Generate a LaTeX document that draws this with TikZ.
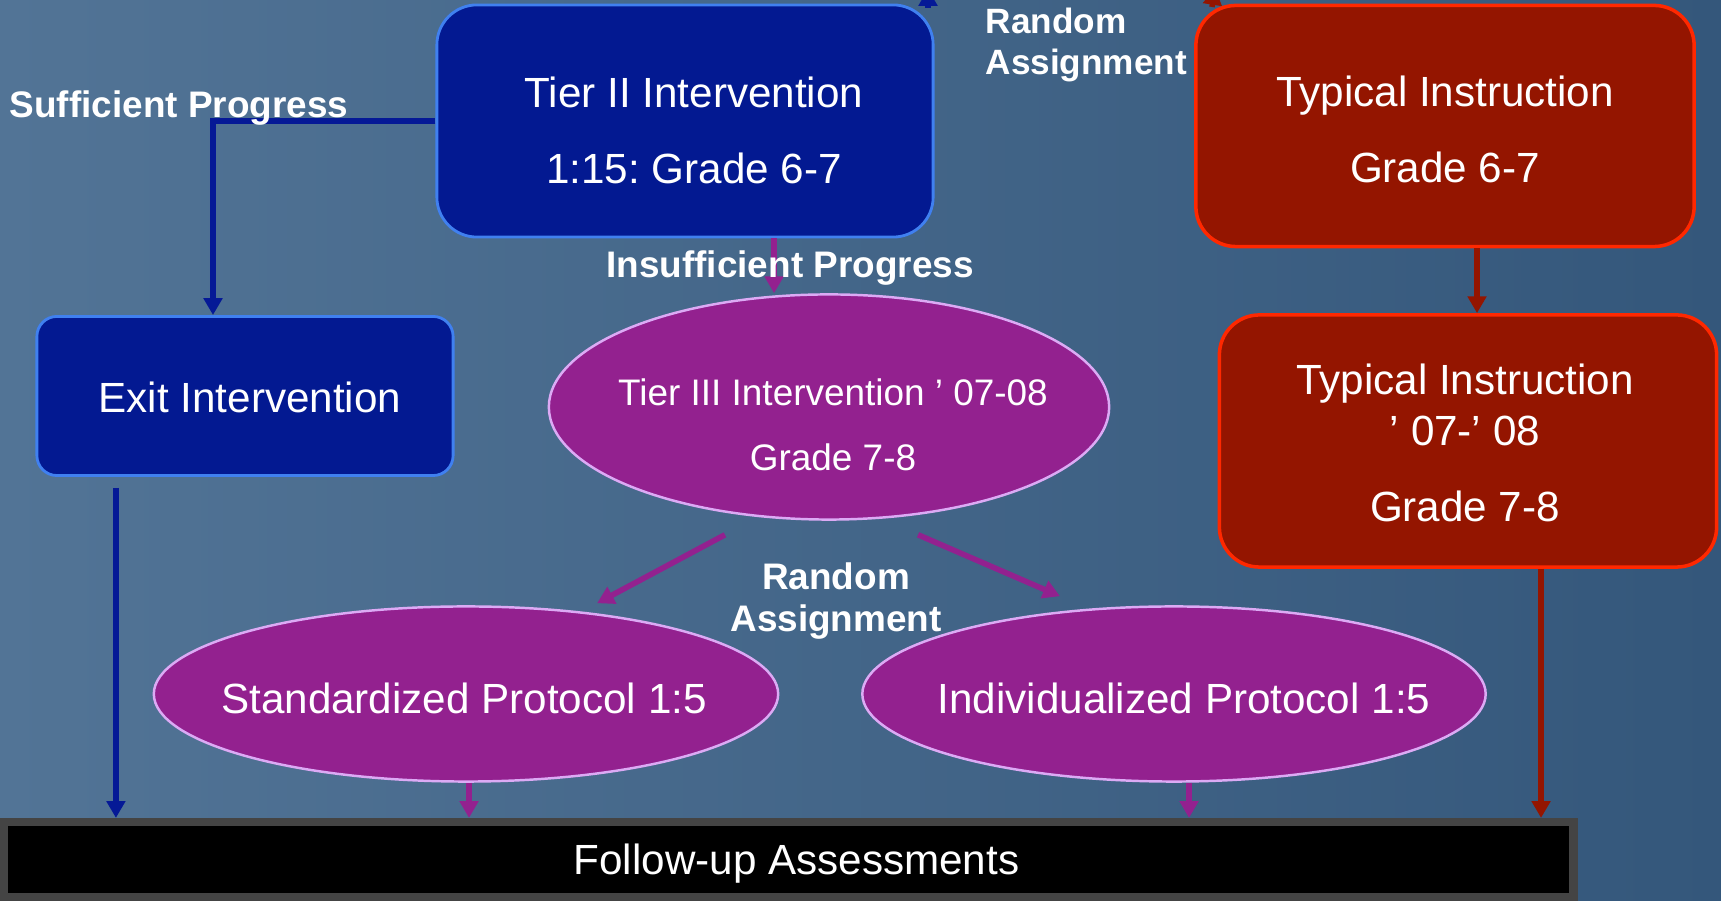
\documentclass[tikz,border=0pt]{standalone}
\usepackage{fontspec}
\setmainfont{Liberation Sans}
\usetikzlibrary{arrows.meta,shapes.geometric}
\frenchspacing

\definecolor{bgleft}{RGB}{82,116,150}
\definecolor{bgright}{RGB}{52,87,123}
\definecolor{tierfill}{RGB}{3,25,145}
\definecolor{tierline}{RGB}{64,128,240}
\definecolor{typfill}{RGB}{148,21,0}
\definecolor{typline}{RGB}{255,40,0}
\definecolor{ovalfill}{RGB}{147,33,143}
\definecolor{ovalline}{RGB}{220,170,245}
\definecolor{arrowblue}{RGB}{5,25,150}
\definecolor{arrowpurple}{RGB}{147,33,143}
\definecolor{arrowred}{RGB}{148,21,0}
\definecolor{bargrey}{RGB}{68,68,68}

\begin{document}
\begin{tikzpicture}[x=0.01cm,y=-0.01cm,
    bluebox/.style={rectangle,draw=tierline,fill=tierfill,line width=0.8pt,
      rounded corners=0.4cm,inner sep=0pt},
    redbox/.style={bluebox,draw=typline,fill=typfill,line width=1pt},
    oval/.style={ellipse,draw=ovalline,fill=ovalfill,line width=0.7pt,inner sep=0pt},
    boxtext/.style={text=white,align=center,inner sep=0pt,
      font=\fontsize{12}{14.4}\selectfont},
    flow/.style={-{Triangle[width=5.2pt,length=4.8pt]},line width=1.6pt},
    lbl/.style={text=white,inner sep=0pt,align=center,
      font=\bfseries\fontsize{10.5}{12.2}\selectfont}]

\useasboundingbox (0,0) rectangle (1721,901);
\clip (0,0) rectangle (1721,901);
\fill[left color=bgleft,right color=bgright] (0,0) rectangle (1721,901);

% arrows leaving at the top edge
\coordinate (ra1) at (928,8);
\coordinate (ra1top) at (928,-11);
\coordinate (ra2) at (1212,7);
\coordinate (ra2top) at (1215,-12);
\draw[flow,arrowblue] (ra1) -- (ra1top);
\draw[flow,arrowred] (ra2) -- (ra2top);

% boxes
\node[bluebox,minimum width=4.96cm,minimum height=2.32cm] (tier2) at (685,121) {};
\node[redbox,minimum width=4.98cm,minimum height=2.41cm] (typ67) at (1445,126) {};
\node[bluebox,rounded corners=0.2cm,minimum width=4.16cm,minimum height=1.59cm] (exit) at (245,396) {};
\node[oval,minimum width=5.6cm,minimum height=2.25cm] (tier3) at (829,407) {};
\node[redbox,minimum width=4.97cm,minimum height=2.52cm] (typ78) at (1468,441) {};
\node[oval,minimum width=6.24cm,minimum height=1.75cm] (std) at (466,694) {};
\node[oval,minimum width=6.23cm,minimum height=1.75cm] (ind) at (1174,694) {};
\node[draw=bargrey,fill=black,line width=2.3pt,minimum width=15.69cm,minimum height=0.75cm,
  inner sep=0pt] (follow) at (788.5,859.5) {};

% box texts
\node[boxtext] (tier2txt) at (694,130) {Tier II Intervention\\[7.2pt]1:15: Grade 6-7};
\node[boxtext] (typ67txt) at (1445,129) {Typical Instruction\\[7.2pt]Grade 6-7};
\node[boxtext] (exittxt) at (250,397) {Exit Intervention};
\node[boxtext,font=\fontsize{10.5}{12.6}\selectfont] (tier3txt) at (833,425)
  {Tier III Intervention ’ 07-08\\[5.9pt]Grade 7-8};
\node[boxtext] (typ78txt) at (1465,443) {Typical Instruction\\’ 07-’ 08\\[7.2pt]Grade 7-8};
\node[boxtext] (stdtxt) at (464,698) {Standardized Protocol 1:5};
\node[boxtext] (indtxt) at (1184,698) {Individualized Protocol 1:5};
\node[boxtext] (followtxt) at (796.5,864) {Follow-up Assessments};

% connectors
\coordinate (spx) at (213,0);
\draw[flow,arrowblue] (tier2.west) -| (spx |- exit.north);
\coordinate (t2out) at ([xshift=0.89cm]tier2.south);
\draw[flow,arrowpurple] (t2out) -- (t2out |- tier3.north);
\draw[flow,arrowpurple] ([shift={(-1.04cm,-0.14cm)}]tier3.south) -- ([shift={(1.31cm,0.02cm)}]std.north);
\draw[flow,arrowpurple] ([shift={(0.89cm,-0.14cm)}]tier3.south) -- ([shift={(-1.14cm,0.09cm)}]ind.north);

\coordinate (exout) at ([shift={(-1.29cm,-0.11cm)}]exit.south);
\draw[flow,arrowblue] (exout) -- (exout |- follow.north);
\coordinate (stdout) at ([xshift=0.03cm]std.south);
\draw[flow,arrowpurple] (stdout) -- (stdout |- follow.north);
\coordinate (indout) at ([xshift=0.15cm]ind.south);
\draw[flow,arrowpurple] (indout) -- (indout |- follow.north);

\coordinate (ty1) at ([xshift=0.32cm]typ67.south);
\draw[flow,arrowred] (ty1) -- (ty1 |- typ78.north);
\coordinate (ty2) at ([xshift=0.73cm]typ78.south);
\draw[flow,arrowred] (ty2) -- (ty2 |- follow.north);

% labels
\node[lbl,anchor=west] (suff) at (9,108) {Sufficient Progress};
\node[lbl] (insuff) at (790,268) {Insufficient Progress};
\node[lbl,anchor=west,align=left,font=\bfseries\fontsize{10}{11.5}\selectfont] (rand1) at (985,45)
  {Random\\Assignment};
\node[lbl] (rand2) at (836,601) {Random\\Assignment};
\end{tikzpicture}
\end{document}
